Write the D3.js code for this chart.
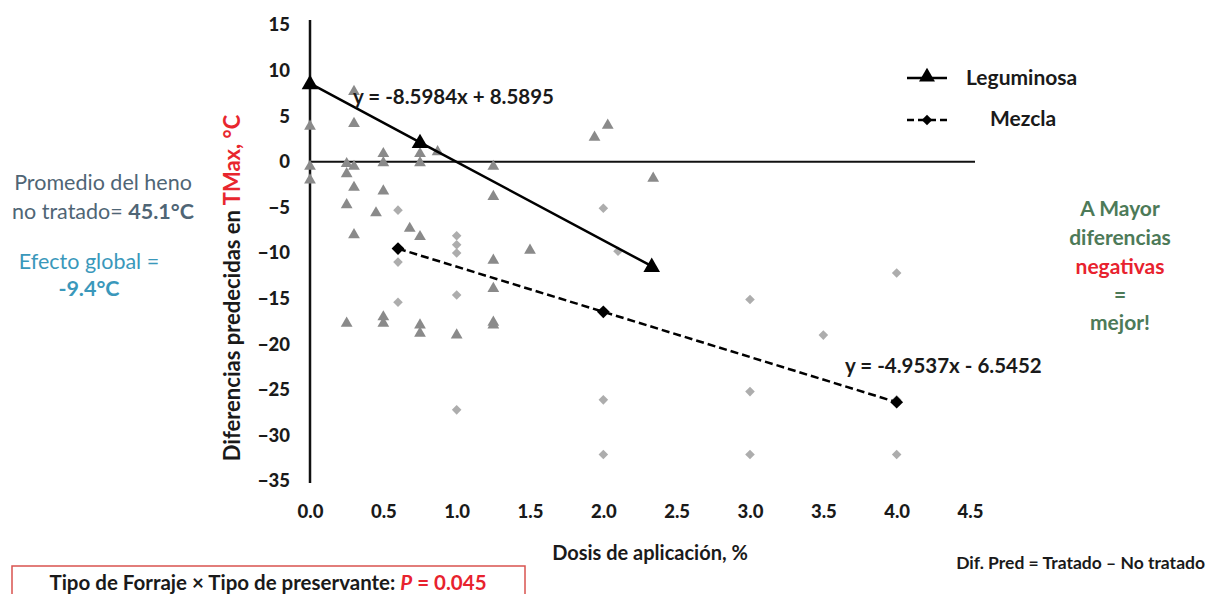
<!DOCTYPE html>
<html><head><meta charset="utf-8">
<script src="https://cdn.jsdelivr.net/npm/d3@7/dist/d3.min.js"></script>
<style>
body{margin:0;background:#fff;}
svg{display:block;font-family:Lato,"Open Sans",sans-serif;}
</style></head>
<body><svg id="c" width="1208" height="594"></svg>
<script>
// Observed points (Leguminosa, triangles)
const legX = [0.3,0,0.3,0.5,0.75,0.87,0,0.25,0.3,0.5,0.75,1.25,0.25,0,0.3,0.5,1.25,0.25,0.45,0.68,0.3,0.75,1.5,1.25,1.25,0.25,0.5,0.5,0.75,0.75,1.0,1.25,1.25,2.03,1.94,2.34];
const legY = [7.8,4.0,4.3,1.0,1.0,1.2,-0.4,-0.1,-0.4,0,0,-0.4,-1.2,-1.9,-2.7,-3.1,-3.7,-4.6,-5.5,-7.2,-7.9,-8.1,-9.6,-10.7,-13.8,-17.6,-16.9,-17.6,-17.8,-18.7,-18.9,-17.5,-17.8,4.1,2.8,-1.7];
// Observed points (Mezcla, diamonds)
const mezX = [0.6,1.0,1.0,1.0,0.6,1.0,0.6,1.0,2.0,2.1,2.0,2.0,4.0,3.0,3.5,3.0,4.0,3.0,4.0];
const mezY = [-5.3,-8.1,-9.1,-10.0,-11.0,-14.6,-15.4,-27.2,-5.1,-9.8,-26.1,-32.1,-12.2,-15.1,-19.0,-25.2,-26.1,-32.1,-32.1];
// Fitted lines
const legFitX = [0,0.75,2.33];
const legFitY = [8.59,2.14,-11.45];
const mezFitX = [0.6,2.0,4.0];
const mezFitY = [-9.52,-16.45,-26.36];
const xTicks = [0,0.5,1.0,1.5,2.0,2.5,3.0,3.5,4.0,4.5];
const yTicks = [15,10,5,0,-5,-10,-15,-20,-25,-30,-35];

const svg = d3.select("#c");
const x = d3.scaleLinear().domain([0,4.5]).range([310,970]);
const y = d3.scaleLinear().domain([-35,15]).range([481,25]);
const tc = "#1a1a1a";

// y tick labels
const ya = d3.axisLeft(y).tickValues(yTicks).tickSize(0).tickPadding(0).tickFormat(d3.format("d"));
const gy = svg.append("g").attr("transform","translate(290,0)").call(ya);
gy.select(".domain").remove();
gy.selectAll("text").attr("font-size",18.5).attr("font-weight","900").attr("fill",tc).attr("font-family","Lato,sans-serif");

// x tick labels
const xa = d3.axisBottom(x).tickValues(xTicks).tickSize(0).tickPadding(0).tickFormat(d3.format(".1f"));
const gx = svg.append("g").attr("transform","translate(0,505)").call(xa);
gx.select(".domain").remove();
gx.selectAll("text").attr("font-size",18.5).attr("font-weight","900").attr("fill",tc).attr("font-family","Lato,sans-serif");

// axis lines
svg.append("line").attr("x1",x(0)).attr("x2",x(0)).attr("y1",y(15)-5).attr("y2",y(-35)+2).attr("stroke","#111").attr("stroke-width",2.5);
svg.append("line").attr("x1",x(0)).attr("x2",975).attr("y1",y(0)).attr("y2",y(0)).attr("stroke","#111").attr("stroke-width",2);

const tri = d3.symbol().type(d3.symbolTriangle);
const sq = d3.symbol().type(d3.symbolSquare);

// scatter
svg.append("g").selectAll("path").data(mezX.map((d,i)=>[d,mezY[i]])).join("path")
  .attr("d",sq.size(46)()).attr("transform",d=>`translate(${x(d[0])},${y(d[1])}) rotate(45)`).attr("fill","#adadad");
svg.append("g").selectAll("path").data(legX.map((d,i)=>[d,legY[i]])).join("path")
  .attr("d",tri.size(60)()).attr("transform",d=>`translate(${x(d[0])},${y(d[1])+1})`).attr("fill","#8a8a8a");

// fit lines
const line = d3.line().x(d=>x(d[0])).y(d=>y(d[1]));
const legFit = legFitX.map((d,i)=>[d,legFitY[i]]);
const mezFit = mezFitX.map((d,i)=>[d,mezFitY[i]]);
svg.append("path").attr("d",line(legFit)).attr("fill","none").attr("stroke","#000").attr("stroke-width",2.5);
svg.append("path").attr("d",line(mezFit)).attr("fill","none").attr("stroke","#000").attr("stroke-width",2.5).attr("stroke-dasharray","8,4");
svg.append("g").selectAll("path").data(legFit).join("path")
  .attr("d",tri.size(120)()).attr("transform",d=>`translate(${x(d[0])},${y(d[1])+1})`).attr("fill","#000");
svg.append("g").selectAll("path").data(mezFit).join("path")
  .attr("d",sq.size(82)()).attr("transform",d=>`translate(${x(d[0])},${y(d[1])}) rotate(45)`).attr("fill","#000");

// equations
svg.append("text").attr("x",353).attr("y",104).attr("font-size",20.5).attr("font-weight","bold").attr("fill",tc).text("y = -8.5984x + 8.5895");
svg.append("text").attr("x",845).attr("y",373).attr("font-size",20.5).attr("font-weight","bold").attr("fill",tc).text("y = -4.9537x - 6.5452");

// legend
svg.append("line").attr("x1",907).attr("x2",947).attr("y1",78).attr("y2",78).attr("stroke","#000").attr("stroke-width",2.5);
svg.append("path").attr("d",tri.size(110)()).attr("transform","translate(927,77)").attr("fill","#000");
svg.append("text").attr("x",966).attr("y",85).attr("font-size",21).attr("font-weight","bold").attr("fill",tc).text("Leguminosa");
svg.append("line").attr("x1",907).attr("x2",947).attr("y1",120).attr("y2",120).attr("stroke","#000").attr("stroke-width",2.5).attr("stroke-dasharray","7,4");
svg.append("path").attr("d",sq.size(55)()).attr("transform","translate(927,120) rotate(45)").attr("fill","#000");
svg.append("text").attr("x",990).attr("y",126).attr("font-size",21).attr("font-weight","bold").attr("fill",tc).text("Mezcla");

// y axis title
const yt = svg.append("text").attr("transform","translate(240,288) rotate(-90)").attr("text-anchor","middle")
  .attr("font-size",22).attr("font-weight","bold").attr("fill",tc);
yt.append("tspan").text("Diferencias predecidas en ");
yt.append("tspan").attr("fill","#e8262e").text("TMax, °C");

// x axis title
svg.append("text").attr("x",650).attr("y",560).attr("text-anchor","middle").attr("font-size",20).attr("font-weight","bold").attr("fill",tc).text("Dosis de aplicación, %");

// left notes
const slate = "#4f6575", teal = "#3a98bb";
svg.append("text").attr("x",103).attr("y",190).attr("text-anchor","middle").attr("font-size",21.5).attr("fill",slate).text("Promedio del heno");
const t2 = svg.append("text").attr("x",103).attr("y",219).attr("text-anchor","middle").attr("font-size",21.5).attr("fill",slate);
t2.append("tspan").text("no tratado= ");
t2.append("tspan").attr("font-weight","bold").text("45.1°C");
svg.append("text").attr("x",89).attr("y",269).attr("text-anchor","middle").attr("font-size",21.5).attr("fill",teal).text("Efecto global =");
svg.append("text").attr("x",89).attr("y",296).attr("text-anchor","middle").attr("font-size",21.5).attr("font-weight","bold").attr("fill",teal).text("-9.4°C");

// right notes
const green = "#4d7a58";
const rn = [["A Mayor",green,216],["diferencias",green,245],["negativas","#e8222e",274],["=",green,302],["mejor!",green,330]];
svg.append("g").selectAll("text").data(rn).join("text").attr("x",1120).attr("y",d=>d[2]).attr("text-anchor","middle")
  .attr("font-size",21).attr("font-weight","bold").attr("fill",d=>d[1]).text(d=>d[0]);

// bottom box
svg.append("rect").attr("x",12).attr("y",566).attr("width",513).attr("height",40).attr("fill","none").attr("stroke","#d9534f").attr("stroke-width",1.5);
const bt = svg.append("text").attr("x",268).attr("y",590).attr("text-anchor","middle").attr("font-size",20.5).attr("font-weight","bold").attr("fill",tc);
bt.append("tspan").text("Tipo de Forraje × Tipo de preservante: ");
bt.append("tspan").attr("fill","#e8222e").attr("font-style","italic").text("P");
bt.append("tspan").attr("fill","#e8222e").text(" = 0.045");

svg.append("text").attr("x",1205).attr("y",569).attr("text-anchor","end").attr("font-size",17.5).attr("font-weight","bold").attr("fill",tc).text("Dif. Pred = Tratado – No tratado");
</script></body></html>
